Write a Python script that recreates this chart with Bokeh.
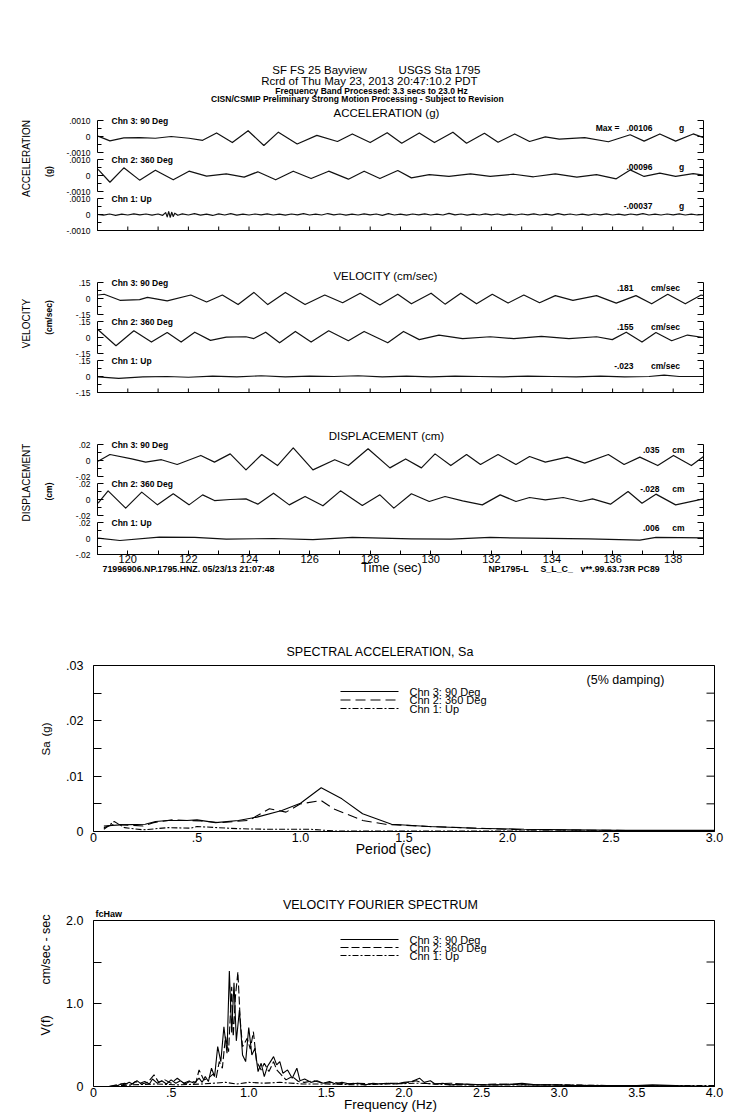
import numpy as np
from bokeh.plotting import figure
from bokeh.models import Range1d, LinearAxis, FixedTicker, Label
from bokeh.embed import file_html
from bokeh.resources import INLINE

FONT = "Liberation Sans"

# ---------------- texts ----------------
HEADER_1A = "SF FS 25 Bayview"
HEADER_1B = "USGS Sta 1795"
HEADER_2 = "Rcrd of Thu May 23, 2013 20:47:10.2 PDT"
HEADER_3 = "Frequency Band Processed: 3.3 secs to 23.0 Hz"
HEADER_4 = "CISN/CSMIP Preliminary Strong Motion Processing - Subject to Revision"
CHANNELS = ["Chn 3: 90 Deg", "Chn 2: 360 Deg", "Chn 1: Up"]
FOOT_LEFT = "71996906.NP.1795.HNZ. 05/23/13 21:07:48"
FOOT_RIGHT = ["NP1795-L", "S_L_C_", "v**.99.63.73R PC89"]

# ---------------- acceleration (g) ----------------
ACC3 = [(119.02, 0.00002), (119.41, -0.00027), (119.87, -0.00009), (120.39, -0.00007),
        (120.91, -0.00011), (121.43, 0.0), (122.02, -0.00011), (122.47, -0.00024),
        (122.93, 0.00022), (123.45, -0.00038), (123.97, 0.00036), (124.49, -0.00056),
        (124.97, 0.00027), (125.59, -0.00047), (126.24, 0.00007), (126.92, -0.00031),
        (127.41, 0.00016), (128.00, -0.00038), (128.56, 0.00024), (129.04, -0.00042),
        (129.62, 0.00022), (130.12, -0.00038), (130.73, 0.00027), (131.18, -0.00042),
        (131.77, 0.00020), (132.22, -0.00036), (132.77, 0.00016), (133.26, -0.00031),
        (133.78, -0.00002), (134.24, -0.00016), (135.08, -0.00007), (135.86, -0.00033),
        (136.58, 0.00011), (137.04, -0.00029), (137.56, 0.00016), (138.08, -0.00029),
        (138.66, 0.00016), (139.0, -0.00007)]
ACC2 = [(119.02, 0.00038), (119.41, -0.00042), (119.87, 0.00048), (120.39, -0.00029),
        (120.91, 0.00033), (121.50, -0.00027), (122.02, 0.00027), (122.60, -0.00004),
        (123.25, 0.00010), (123.84, -0.00010), (124.29, 0.00023), (124.88, -0.00027),
        (125.46, 0.00027), (126.05, -0.00019), (126.63, 0.00027), (127.28, -0.00023),
        (127.80, 0.00027), (128.32, -0.00019), (128.91, 0.00031), (129.36, -0.00015),
        (129.95, 0.00006), (130.60, -0.00006), (131.31, 0.00010), (131.96, -0.00006),
        (132.74, 0.00008), (133.39, -0.00008), (134.11, 0.00010), (134.82, -0.00010),
        (135.47, 0.00006), (136.12, -0.00021), (136.58, 0.00035), (137.04, -0.00006),
        (137.56, 0.00015), (138.08, -0.00006), (138.66, 0.00012), (139.0, 0.00002)]
ACC1 = [(119.0, 0.0), (119.2, -0.00004), (119.4, 0.00003), (119.6, -0.00005), (119.8, 0.00002),
        (120.0, -0.00003), (120.2, 0.00004), (120.4, -0.00002), (120.6, 0.00003), (120.8, -0.00004),
        (121.0, 0.00003), (121.15, -0.00005), (121.25, 0.00012), (121.3, -0.00015), (121.35, 0.00018),
        (121.4, -0.00017), (121.45, 0.00014), (121.5, -0.00012), (121.55, 0.00008), (121.65, -0.00005),
        (121.8, 0.00004), (122.0, -0.00003), (122.2, 0.00005), (122.4, -0.00004), (122.6, 0.00002),
        (122.8, -0.00006), (123.0, 0.00004), (123.2, -0.00003), (123.4, 0.00005), (123.6, -0.00004),
        (123.8, 0.00002), (124.0, -0.00003), (124.2, 0.00003), (124.4, -0.00002), (124.6, 0.00004),
        (124.8, -0.00003), (125.0, 0.00002), (125.2, -0.00004), (125.4, 0.00003), (125.6, -0.00002),
        (125.8, 0.00005), (126.0, -0.00003), (126.2, 0.00002), (126.4, -0.00003), (126.6, 0.00006),
        (126.8, -0.00002), (127.0, 0.00003), (127.2, -0.00004), (127.4, 0.00002), (127.6, -0.00003),
        (127.8, 0.00004), (128.0, -0.00002), (128.2, 0.00003), (128.4, -0.00005), (128.6, 0.00005),
        (128.8, -0.00003), (129.0, 0.00002), (129.2, -0.00004), (129.4, 0.00003), (129.6, -0.00002),
        (129.8, 0.00004), (130.0, -0.00003), (130.2, 0.00002), (130.4, -0.00003), (130.6, 0.00007),
        (130.8, -0.00002), (131.0, 0.00003), (131.2, -0.00004), (131.4, 0.00002), (131.6, -0.00003),
        (131.8, 0.00004), (132.0, -0.00002), (132.2, 0.00003), (132.4, -0.00004), (132.6, 0.00002),
        (132.8, -0.00003), (133.0, 0.00003), (133.2, -0.00002), (133.4, 0.00004), (133.6, -0.00003),
        (133.8, 0.00002), (134.0, -0.00004), (134.2, 0.00005), (134.4, -0.00002), (134.6, 0.00003),
        (134.8, -0.00003), (135.0, 0.00002), (135.2, -0.00004), (135.4, 0.00003), (135.6, -0.00002),
        (135.8, 0.00004), (136.0, -0.00003), (136.2, 0.00002), (136.4, -0.00004), (136.6, 0.00003),
        (136.8, -0.00002), (137.0, 0.00005), (137.2, -0.00003), (137.4, 0.00002), (137.6, -0.00003),
        (137.8, 0.00003), (138.0, -0.00002), (138.2, 0.00004), (138.4, -0.00003), (138.6, 0.00002),
        (138.8, -0.00003), (139.0, 0.00001)]
ACC_MAX = [".00106", ".00096", "-.00037"]

# ---------------- velocity (cm/sec) ----------------
VEL3 = [(119.02, 0.033), (119.22, 0.040), (119.74, -0.017), (120.39, -0.010), (120.65, 0.010),
        (121.30, -0.023), (122.08, 0.033), (122.60, -0.033), (123.12, 0.033), (123.64, -0.057),
        (124.16, 0.057), (124.62, -0.057), (125.20, 0.057), (125.85, -0.057), (126.50, 0.033),
        (127.09, -0.040), (127.67, 0.050), (128.32, -0.060), (128.91, 0.040), (129.36, -0.050),
        (130.01, 0.050), (130.47, -0.053), (130.99, 0.050), (131.51, -0.050), (132.03, 0.040),
        (132.55, -0.043), (133.07, 0.033), (133.59, -0.040), (134.11, 0.027), (134.69, -0.017),
        (135.47, 0.027), (136.12, -0.043), (136.77, 0.027), (137.29, -0.050), (137.82, 0.040),
        (138.40, -0.050), (138.92, 0.033), (139.0, 0.027)]
VEL2 = [(119.02, 0.073), (119.61, -0.077), (120.20, 0.063), (120.78, -0.043), (121.30, 0.047),
        (121.76, -0.043), (122.21, 0.050), (122.73, -0.027), (123.25, 0.003), (123.90, 0.007),
        (124.16, -0.010), (124.55, 0.050), (125.01, -0.050), (125.53, 0.057), (126.05, -0.043),
        (126.63, 0.063), (127.28, -0.030), (127.80, 0.057), (128.58, -0.050), (129.10, 0.057),
        (129.62, -0.020), (130.27, 0.023), (131.05, -0.010), (131.96, 0.007), (132.74, -0.010),
        (133.65, 0.010), (134.56, -0.010), (135.47, 0.007), (135.99, -0.020), (136.45, 0.050),
        (136.97, -0.043), (137.43, 0.047), (137.95, -0.030), (138.47, 0.023), (139.0, 0.0)]
VEL1 = [(119.02, -0.003), (119.7, -0.017), (120.5, -0.003), (121.3, 0.0), (122.0, -0.007),
        (122.8, 0.003), (123.6, -0.003), (124.4, 0.007), (125.2, -0.003), (126.0, 0.003),
        (126.8, 0.0), (127.6, 0.007), (128.4, -0.003), (129.2, 0.003), (130.0, -0.003),
        (130.8, 0.003), (131.6, 0.0), (132.4, -0.003), (133.2, 0.003), (134.0, 0.0),
        (134.8, -0.003), (135.6, 0.003), (136.4, -0.003), (137.2, 0.0), (137.7, 0.013),
        (138.2, 0.0), (139.0, 0.0)]
VEL_MAX = [".181", ".155", "-.023"]

# ---------------- displacement (cm) ----------------
DIS3 = [(119.02, -0.0010), (119.41, 0.0075), (120.13, 0.0020), (120.59, -0.0020), (121.11, 0.0010),
        (121.63, -0.0050), (122.41, 0.0063), (122.86, -0.0020), (123.38, 0.0083), (123.90, -0.0117),
        (124.42, 0.0075), (124.94, -0.0063), (125.46, 0.0158), (126.11, -0.0117), (126.83, 0.0010),
        (127.28, -0.0063), (127.93, 0.0146), (128.65, -0.0092), (129.17, 0.0020), (129.69, -0.0092),
        (130.14, 0.0083), (130.66, -0.0063), (131.18, 0.0075), (131.64, -0.0050), (132.22, 0.0075),
        (132.81, -0.0050), (133.26, 0.0050), (133.78, -0.0020), (134.50, 0.0042), (135.08, -0.0033),
        (135.86, 0.0075), (136.38, -0.0050), (136.90, 0.0042), (137.49, -0.0063), (138.01, 0.0063),
        (138.60, -0.0063), (139.0, 0.0050)]
DIS2 = [(119.02, -0.0046), (119.35, 0.0108), (119.93, -0.0108), (120.46, 0.0092), (120.98, -0.0067),
        (121.50, 0.0071), (122.02, -0.0067), (122.47, 0.0058), (122.86, -0.0013), (123.38, 0.0),
        (123.90, 0.0008), (124.29, -0.0058), (124.81, 0.0079), (125.33, -0.0067), (125.85, 0.0038),
        (126.44, -0.0079), (127.02, 0.0108), (127.74, -0.0075), (128.32, 0.0058), (128.78, -0.0108),
        (129.36, 0.0071), (129.95, -0.0025), (130.47, 0.0038), (131.05, -0.0017), (131.70, -0.0067),
        (132.29, 0.0058), (132.81, -0.0025), (133.26, 0.0025), (133.78, -0.0004), (134.37, 0.0025),
        (134.95, -0.0025), (135.34, 0.0008), (135.93, -0.0058), (136.51, 0.0100), (136.97, -0.0046),
        (137.43, 0.0067), (138.08, -0.0067), (139.0, 0.0008)]
DIS1 = [(119.02, 0.0004), (119.74, -0.0025), (121.04, 0.0017), (122.21, 0.0013), (123.25, -0.0008),
        (124.81, 0.0), (126.11, -0.0013), (127.41, 0.0013), (129.36, -0.0004), (130.66, -0.0008),
        (131.96, 0.0013), (133.26, 0.0004), (135.21, -0.0004), (136.90, -0.0021), (137.43, 0.0013),
        (139.0, 0.0008)]
DIS_MAX = [".035", "-.028", ".006"]

TIME_TICKS = [120, 122, 124, 126, 128, 130, 132, 134, 136, 138]
TIME_MINOR = [119, 121, 123, 125, 127, 129, 131, 133, 135, 137, 139]

# ---------------- spectral acceleration (g) vs period (sec) ----------------
SA3 = [(0.05, 0.0010), (0.13, 0.0012), (0.25, 0.0013), (0.30, 0.0018), (0.36, 0.0020), (0.45, 0.0020),
       (0.50, 0.0021), (0.59, 0.0016), (0.70, 0.0020), (0.79, 0.0026), (0.91, 0.0038), (1.00, 0.0051),
       (1.10, 0.0079), (1.20, 0.0059), (1.30, 0.0032), (1.44, 0.0013), (1.62, 0.0009), (1.85, 0.0006),
       (2.08, 0.0004), (2.54, 0.0002), (3.00, 0.0002)]
SA2 = [(0.05, 0.0007), (0.10, 0.0013), (0.24, 0.0010), (0.29, 0.0016), (0.38, 0.0021), (0.52, 0.0019),
       (0.61, 0.0016), (0.75, 0.0020), (0.85, 0.0041), (0.93, 0.0035), (1.00, 0.0050), (1.10, 0.0056),
       (1.16, 0.0041), (1.30, 0.0020), (1.41, 0.0013), (1.62, 0.0009), (1.85, 0.0006), (2.08, 0.0003),
       (3.00, 0.0001)]
SA1 = [(0.05, 0.0004), (0.10, 0.0018), (0.15, 0.0007), (0.24, 0.0003), (0.36, 0.0007), (0.47, 0.0006),
       (0.50, 0.0009), (0.70, 0.0005), (0.84, 0.0004), (1.05, 0.0004), (1.16, 0.0001), (1.39, 0.0001),
       (1.85, 0.0001), (3.00, 0.0001)]
SA_XTICKS = {0.0: "0", 0.5: ".5", 1.0: "1.0", 1.5: "1.5", 2.0: "2.0", 2.5: "2.5", 3.0: "3.0"}
SA_YTICKS = {0.0: "0", 0.01: ".01", 0.02: ".02", 0.03: ".03"}
SA_YMINOR = [0.005, 0.015, 0.025]

# ---------------- velocity Fourier spectrum ----------------
FS3 = [(0.10, 0.00), (0.15, 0.01), (0.18, 0.03), (0.20, 0.02), (0.23, 0.05), (0.25, 0.03), (0.28, 0.07),
       (0.30, 0.04), (0.33, 0.06), (0.36, 0.03), (0.38, 0.09), (0.41, 0.04), (0.44, 0.07), (0.47, 0.03),
       (0.50, 0.08), (0.53, 0.04), (0.56, 0.07), (0.59, 0.03), (0.62, 0.06), (0.65, 0.04), (0.68, 0.10),
       (0.70, 0.05), (0.72, 0.12), (0.74, 0.06), (0.76, 0.22), (0.78, 0.12), (0.80, 0.48), (0.82, 0.30),
       (0.84, 0.72), (0.86, 0.40), (0.875, 1.39), (0.89, 0.65), (0.905, 1.25), (0.92, 0.55), (0.94, 0.92),
       (0.96, 0.38), (0.98, 0.30), (1.00, 0.71), (1.02, 0.38), (1.04, 0.46), (1.06, 0.18), (1.08, 0.28),
       (1.10, 0.12), (1.12, 0.24), (1.14, 0.30), (1.16, 0.36), (1.18, 0.26), (1.20, 0.30), (1.22, 0.16),
       (1.25, 0.20), (1.28, 0.10), (1.31, 0.22), (1.33, 0.07), (1.36, 0.09), (1.40, 0.05), (1.44, 0.07),
       (1.48, 0.04), (1.52, 0.06), (1.56, 0.03), (1.60, 0.05), (1.65, 0.03), (1.70, 0.04), (1.75, 0.02),
       (1.80, 0.04), (1.85, 0.03), (1.90, 0.04), (1.95, 0.03), (2.00, 0.05), (2.05, 0.06), (2.10, 0.10),
       (2.13, 0.05), (2.17, 0.07), (2.20, 0.03), (2.25, 0.04), (2.30, 0.02), (2.40, 0.03), (2.50, 0.02),
       (2.60, 0.02), (2.70, 0.03), (2.76, 0.04), (2.85, 0.02), (2.95, 0.02), (3.10, 0.01), (3.30, 0.01),
       (3.50, 0.01), (3.60, 0.02), (3.75, 0.01), (4.00, 0.00)]
FS2 = [(0.10, 0.00), (0.15, 0.02), (0.20, 0.04), (0.24, 0.02), (0.27, 0.06), (0.31, 0.03), (0.35, 0.05),
       (0.39, 0.14), (0.42, 0.05), (0.46, 0.08), (0.50, 0.04), (0.54, 0.10), (0.58, 0.04), (0.62, 0.07),
       (0.66, 0.05), (0.68, 0.20), (0.71, 0.08), (0.74, 0.10), (0.77, 0.15), (0.79, 0.10), (0.81, 0.30),
       (0.83, 0.22), (0.85, 0.60), (0.87, 0.42), (0.89, 1.20), (0.90, 0.60), (0.915, 1.10), (0.93, 1.38),
       (0.945, 0.80), (0.96, 0.48), (0.99, 0.58), (1.01, 0.45), (1.03, 0.66), (1.05, 0.30), (1.08, 0.20),
       (1.10, 0.28), (1.13, 0.18), (1.16, 0.30), (1.18, 0.20), (1.21, 0.14), (1.24, 0.08), (1.28, 0.12),
       (1.32, 0.06), (1.36, 0.05), (1.42, 0.07), (1.48, 0.04), (1.55, 0.05), (1.62, 0.03), (1.70, 0.04),
       (1.80, 0.03), (1.90, 0.04), (2.00, 0.04), (2.08, 0.07), (2.12, 0.04), (2.20, 0.03), (2.30, 0.04),
       (2.45, 0.02), (2.60, 0.03), (2.80, 0.02), (3.00, 0.02), (3.30, 0.01), (3.60, 0.01), (4.00, 0.00)]
FS1 = [(0.10, 0.00), (0.25, 0.02), (0.40, 0.03), (0.55, 0.02), (0.70, 0.03), (0.85, 0.05), (0.92, 0.03),
       (1.00, 0.05), (1.10, 0.04), (1.20, 0.05), (1.35, 0.03), (1.50, 0.03), (1.70, 0.02), (1.90, 0.03),
       (2.10, 0.04), (2.30, 0.02), (2.60, 0.02), (3.00, 0.02), (3.40, 0.01), (3.80, 0.01), (4.00, 0.01)]
FS_XTICKS = {0.0: "0", 0.5: ".5", 1.0: "1.0", 1.5: "1.5", 2.0: "2.0", 2.5: "2.5",
             3.0: "3.0", 3.5: "3.5", 4.0: "4.0"}
FS_YTICKS = {0.0: "0", 1.0: "1.0", 2.0: "2.0"}
FS_YMINOR = [0.5, 1.5]

SA_DASH = ["solid", "10 5", "6 2 2 2"]
FS_DASH = ["solid", "8 3", "6 2 2 2"]

# ---------------- page geometry (pixels of the 739 x 1115 page) ----------------
W, H = 739, 1112
T0, T1 = 119.0, 139.0
WX0, WX1 = 97, 703          # waveform boxes, left / right edge
HALF = 16                   # half height of one channel box
SX0, SX1 = 93, 714          # spectrum frames, left / right edge


def unzip(pairs):
    xs, ys = zip(*pairs)
    return list(xs), list(ys)


def xmap(v0, px0, v1, px1):
    k = (v1 - v0) / (px1 - px0)
    return Range1d(v0 - px0 * k, v0 + (W - px0) * k)


def ymap(v0, py0, v1, py1):
    k = (v1 - v0) / (py1 - py0)
    return Range1d(v0 + (H - py0) * k, v0 - py0 * k)


p = figure(width=W, height=H, x_range=Range1d(0, W), y_range=Range1d(H, 0),
           x_axis_type=None, y_axis_type=None, toolbar_location=None, output_backend="svg",
           min_border_left=0, min_border_right=0, min_border_top=0, min_border_bottom=0)
p.outline_line_color = None
p.background_fill_color = "white"
p.border_fill_color = "white"

xr = {"time": xmap(T0, WX0, T1, WX1),
      "period": xmap(0.0, SX0, 3.0, SX1),
      "freq": xmap(0.0, SX0, 4.0, SX1)}
yr = {"sa": ymap(0.0, 831, 0.03, 665),
      "fs": ymap(0.0, 1086, 2.0, 920)}


def lab(x, y, text, size, align="left", bold=False, angle=0.0):
    kw = dict(x=x, y=y, text=text, text_font=FONT, text_font_size=f"{size}px",
              text_align=align, text_baseline="middle", text_color="black", angle=angle)
    if bold:
        kw["text_font_style"] = "bold"
    p.add_layout(Label(**kw))


def style(ax, size, standoff, tick_in, minor_in):
    ax.axis_line_color = None
    ax.major_tick_in = tick_in
    ax.major_tick_out = 0
    ax.minor_tick_in = minor_in
    ax.minor_tick_out = 0
    ax.major_tick_line_color = "black" if tick_in else None
    ax.minor_tick_line_color = "black" if minor_in else None
    ax.major_label_text_font = FONT
    ax.major_label_text_font_size = f"{size}px"
    ax.major_label_text_color = "black"
    ax.major_label_standoff = standoff


GROUPS = [
    dict(key="acc", zeros=[136, 175, 214], unit=0.001, tl=(".0010", "0", "-.0010"),
         traces=[ACC3, ACC2, ACC1], maxes=ACC_MAX, title="ACCELERATION (g)", title_xy=(386, 112),
         side=("ACCELERATION", 158), side2=("(g)", 171), max_x=652, unit_x=681, unit_txt="g",
         max_dy=9),
    dict(key="vel", zeros=[298, 337, 376], unit=0.15, tl=(".15", "0", "-.15"),
         traces=[VEL3, VEL2, VEL1], maxes=VEL_MAX, title="VELOCITY (cm/sec)", title_xy=(385, 275),
         side=("VELOCITY", 323), side2=("(cm/sec)", 317), max_x=633, unit_x=665, unit_txt="cm/sec",
         max_dy=11),
    dict(key="dis", zeros=[460, 499, 538], unit=0.02, tl=(".02", "0", "-.02"),
         traces=[DIS3, DIS2, DIS1], maxes=DIS_MAX, title="DISPLACEMENT (cm)", title_xy=(386, 435),
         side=("DISPLACEMENT", 482), side2=("(cm)", 491), max_x=659, unit_x=678, unit_txt="cm",
         max_dy=11),
]

for g in GROUPS:
    u = g["unit"]
    for k, z in enumerate(g["zeros"]):
        yr[f"{g['key']}{k}"] = ymap(0.0, z, u, z - HALF)
p.extra_x_ranges = xr
p.extra_y_ranges = yr

# ---------------- waveform panels ----------------
all_t = sorted(TIME_TICKS + TIME_MINOR)
for gi, g in enumerate(GROUPS):
    u = g["unit"]
    for k, z in enumerate(g["zeros"]):
        rn = f"{g['key']}{k}"
        ax = LinearAxis(y_range_name=rn, fixed_location=WX0,
                        ticker=FixedTicker(ticks=[-u, 0.0, u], minor_ticks=[-u / 2, u / 2]),
                        major_label_overrides={u: g["tl"][0], 0.0: g["tl"][1], -u: g["tl"][2]})
        style(ax, 8.5, 7, 6, 4)
        p.add_layout(ax, "left")
        # right-hand ticks of the channel box
        p.segment(x0=[WX1] * 3, x1=[WX1 - 6] * 3, y0=[-u, 0.0, u], y1=[-u, 0.0, u],
                  y_range_name=rn, line_color="black", line_width=1)
        p.segment(x0=[WX1] * 2, x1=[WX1 - 4] * 2, y0=[-u / 2, u / 2], y1=[-u / 2, u / 2],
                  y_range_name=rn, line_color="black", line_width=1)
        # box edges
        p.segment(x0=[WX0, WX1], x1=[WX0, WX1], y0=[u, u], y1=[-u, -u],
                  y_range_name=rn, line_color="black", line_width=1)
        t, v = unzip(g["traces"][k])
        p.line(t, v, x_range_name="time", y_range_name=rn, line_color="#111111", line_width=1.2,
               line_join="round")
        lab(111, z - 15.5, CHANNELS[k], 8.5, bold=True)
        lab(g["max_x"], z - g["max_dy"], g["maxes"][k], 8.5, align="right", bold=True)
        lab(g["unit_x"], z - g["max_dy"], g["unit_txt"], 8.5, align="center", bold=True)
    # bottom line of the panel
    rn = f"{g['key']}2"
    p.segment(x0=[T0], x1=[T1], y0=[-u], y1=[-u], x_range_name="time", y_range_name=rn,
              line_color="black", line_width=1)
    if gi < 2:
        p.segment(x0=all_t, x1=all_t, y0=[-u] * len(all_t), y1=[-u + 4 * u / HALF] * len(all_t),
                  x_range_name="time", y_range_name=rn, line_color="black", line_width=1)
    else:
        bx = LinearAxis(x_range_name="time", fixed_location=g["zeros"][2] + HALF,
                        ticker=FixedTicker(ticks=TIME_TICKS, minor_ticks=TIME_MINOR))
        style(bx, 11, 0, 4, 4)
        p.add_layout(bx, "below")
    lab(g["title_xy"][0], g["title_xy"][1], g["title"], 11.5, align="center")
    lab(26, g["side"][1], g["side"][0], 10, align="center", angle=np.pi / 2)
    lab(48, g["side2"][1], g["side2"][0], 8.5, align="center", angle=np.pi / 2, bold=True)

lab(619, GROUPS[0]["zeros"][0] - 9, "Max =", 8.5, align="right", bold=True)
lab(319, 69.5, HEADER_1A, 11.5, align="center")
lab(439, 69.5, HEADER_1B, 11.5, align="center")
lab(369, 80, HEADER_2, 11.5, align="center")
lab(371, 90.5, HEADER_3, 8.5, align="center", bold=True)
lab(357, 98.5, HEADER_4, 8.5, align="center", bold=True)
lab(102, 568, FOOT_LEFT, 8.8, bold=True)
lab(391, 567, "Time (sec)", 13, align="center")
lab(488, 568, FOOT_RIGHT[0], 8.8, bold=True)
lab(540, 568, FOOT_RIGHT[1], 8.8, bold=True)
lab(580, 568, FOOT_RIGHT[2], 8.8, bold=True)


# ---------------- spectrum panels ----------------
def spectrum(xn, yn, xmax, ymax, xt, yt, yminor, series, dashes, legend_y, legend_step):
    p.quad(left=[0.0], right=[xmax], bottom=[0.0], top=[ymax], x_range_name=xn, y_range_name=yn,
           fill_color=None, line_color="black", line_width=1)
    ly = LinearAxis(y_range_name=yn, fixed_location=SX0,
                    ticker=FixedTicker(ticks=list(yt.keys()), minor_ticks=yminor),
                    major_label_overrides=yt)
    style(ly, 12.5, 10, 8, 8)
    p.add_layout(ly, "left")
    ticks = list(yt.keys()) + yminor
    p.segment(x0=[SX1] * len(ticks), x1=[SX1 - 8] * len(ticks), y0=ticks, y1=ticks,
              y_range_name=yn, line_color="black", line_width=1)
    bottom_px = 831 if yn == "sa" else 1086
    bx = LinearAxis(x_range_name=xn, fixed_location=bottom_px,
                    ticker=FixedTicker(ticks=list(xt.keys())), major_label_overrides=xt)
    style(bx, 12.5, 1, 0, 0)
    p.add_layout(bx, "below")
    for pairs, dash in zip(series, dashes):
        x, y = unzip(pairs)
        p.line(x, y, x_range_name=xn, y_range_name=yn, line_color="black", line_width=1.1,
               line_dash=dash)
    for k in range(3):
        yy = legend_y + k * legend_step
        p.line([340, 398], [yy, yy], line_color="black", line_width=1.1, line_dash=dashes[k])
        lab(409, yy, CHANNELS[k], 11)


spectrum("period", "sa", 3.0, 0.03, SA_XTICKS, SA_YTICKS, SA_YMINOR, [SA3, SA2, SA1], SA_DASH,
         691, 8.5)
lab(380, 651, "SPECTRAL ACCELERATION, Sa", 12.5, align="center")
lab(625, 679, "(5% damping)", 12.5, align="center")
lab(393, 848, "Period (sec)", 14, align="center")
lab(45, 748, "Sa", 11.5, align="center", angle=np.pi / 2)
lab(45, 729, "(g)", 11.5, align="center", angle=np.pi / 2)

spectrum("freq", "fs", 4.0, 2.0, FS_XTICKS, FS_YTICKS, FS_YMINOR, [FS3, FS2, FS1], FS_DASH,
         939, 8.0)
lab(380, 904, "VELOCITY FOURIER SPECTRUM", 12.5, align="center")
lab(95, 913, "fcHaw", 9, bold=True)
lab(390, 1104, "Frequency (Hz)", 13.5, align="center")
lab(45, 1025, "V(f)", 12.5, align="center", angle=np.pi / 2)
lab(45, 949, "cm/sec - sec", 12.5, align="center", angle=np.pi / 2)

open("out.html", "w").write(file_html(p, INLINE))
